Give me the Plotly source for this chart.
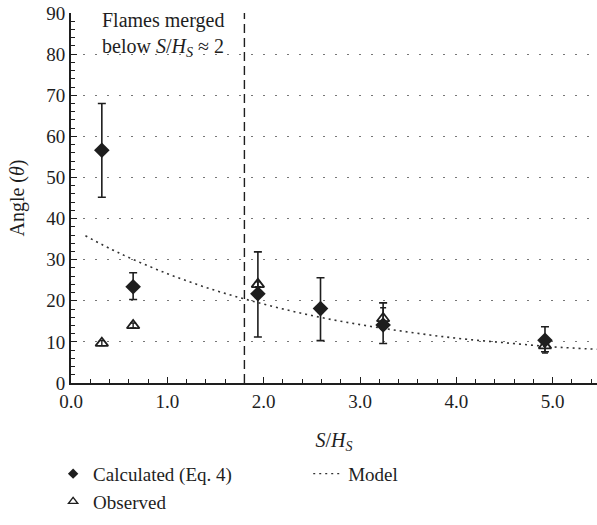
import plotly.graph_objects as go

# Calculated (Eq. 4)
calc_x = [0.32, 0.645, 1.94, 2.59, 3.24, 4.92]
calc_y = [56.6, 23.4, 21.7, 18.1, 14.1, 10.4]
calc_err_plus = [11.4, 3.4, 10.2, 7.5, 5.4, 3.3]
calc_err_minus = [11.4, 3.1, 10.5, 7.8, 4.5, 2.8]

# Observed
obs_x = [0.32, 0.645, 1.94, 3.24, 4.92]
obs_y = [9.7, 14.0, 24.0, 15.7, 9.1]
obs_err_plus = [0.6, 0.6, 0.6, 2.6, 0.6]
obs_err_minus = [0.6, 0.6, 0.6, 2.6, 1.8]

# Model
model_x = [0.15, 0.5, 1.0, 1.5, 2.0, 2.5, 3.0, 3.5, 4.0, 4.5, 5.0, 5.46]
model_y = [35.8, 31.6, 26.6, 22.5, 19.2, 16.4, 14.2, 12.4, 10.9, 9.8, 8.8, 8.2]

merge_x = 1.8

FONT = "Liberation Serif"
INK = "#1e1e1e"

fig = go.Figure()

# drawn traces
fig.add_trace(go.Scatter(
    x=model_x, y=model_y, mode="lines", name="Model",
    line=dict(color="#333333", width=1.6, dash="2px,4px", shape="spline"),
    showlegend=False,
))
fig.add_trace(go.Scatter(
    x=obs_x, y=obs_y, mode="markers", name="Observed",
    marker=dict(symbol="triangle-up-open", size=11, color=INK, line=dict(width=1.8, color=INK)),
    error_y=dict(type="data", array=obs_err_plus, arrayminus=obs_err_minus,
                 color=INK, thickness=1.4, width=3),
    showlegend=False,
))
fig.add_trace(go.Scatter(
    x=calc_x, y=calc_y, mode="markers", name="Calculated (Eq. 4)",
    marker=dict(symbol="diamond", size=12, color=INK),
    error_y=dict(type="data", array=calc_err_plus, arrayminus=calc_err_minus,
                 color=INK, thickness=1.6, width=4),
    showlegend=False,
))

# legend entries (small symbols like the reference)
fig.add_trace(go.Scatter(
    x=[None], y=[None], mode="markers", name="Calculated (Eq. 4)",
    marker=dict(symbol="diamond", size=8, color=INK), legend="legend",
))
fig.add_trace(go.Scatter(
    x=[None], y=[None], mode="markers", name="Observed",
    marker=dict(symbol="triangle-up-open", size=8, color=INK, line=dict(width=1.4, color=INK)),
    legend="legend",
))
fig.add_trace(go.Scatter(
    x=[None], y=[None], mode="lines", name="Model",
    line=dict(color="#333333", width=1.4, dash="2px,4px"), legend="legend2",
))

fig.add_shape(type="line", x0=merge_x, x1=merge_x, y0=0, y1=90, xref="x", yref="y",
              line=dict(color=INK, width=1.4, dash="9px,5px"))

fig.add_annotation(
    x=0.30, y=90, xref="x", yref="y", xanchor="left", yanchor="top", yshift=6,
    text="Flames merged<br>below <i>S</i>/<i>H</i><sub><i>S</i></sub> ≈ 2",
    showarrow=False, align="left", font=dict(family=FONT, size=20, color=INK),
)

fig.update_layout(
    width=597, height=525,
    margin=dict(l=71, r=0, t=13, b=142),
    paper_bgcolor="white", plot_bgcolor="white",
    font=dict(family=FONT, size=19, color=INK),
    legend=dict(
        x=-0.034, xanchor="left", y=-0.194, yanchor="top", xref="paper", yref="paper",
        font=dict(family=FONT, size=19, color=INK),
        itemwidth=30, tracegroupgap=0, bgcolor="rgba(0,0,0,0)",
    ),
    legend2=dict(
        x=0.451, xanchor="left", y=-0.194, yanchor="top", xref="paper", yref="paper",
        font=dict(family=FONT, size=19, color=INK), bgcolor="rgba(0,0,0,0)",
    ),
    showlegend=True,
)

fig.update_xaxes(
    range=[0, 5.46], tickvals=[0, 1, 2, 3, 4, 5],
    ticktext=["0.0", "1.0", "2.0", "3.0", "4.0", "5.0"],
    showgrid=False, zeroline=False,
    showline=True, linecolor=INK, linewidth=2,
    ticks="inside", ticklen=6, tickwidth=1.4, tickcolor=INK,
    minor=dict(dtick=0.2, tick0=0, ticks="inside", ticklen=4, tickwidth=1.2, tickcolor=INK, showgrid=False),
    tickfont=dict(family=FONT, size=19, color=INK),
    title=dict(text="<i>S</i>/<i>H</i><sub><i>S</i></sub>", font=dict(family=FONT, size=20, color=INK), standoff=22),
)

fig.update_yaxes(
    range=[0, 90], dtick=10, tick0=0,
    showgrid=True, gridcolor="#777777", gridwidth=1.4, griddash="1.5px,10.5px",
    zeroline=False,
    showline=True, linecolor=INK, linewidth=2,
    ticks="inside", ticklen=6, tickwidth=1.4, tickcolor=INK,
    minor=dict(dtick=2, tick0=0, ticks="inside", ticklen=4, tickwidth=1.2, tickcolor=INK, showgrid=False),
    tickfont=dict(family=FONT, size=19, color=INK),
    title=dict(text="Angle (<i>θ</i>)", font=dict(family=FONT, size=20, color=INK), standoff=16),
)

fig.write_html("out.html")
